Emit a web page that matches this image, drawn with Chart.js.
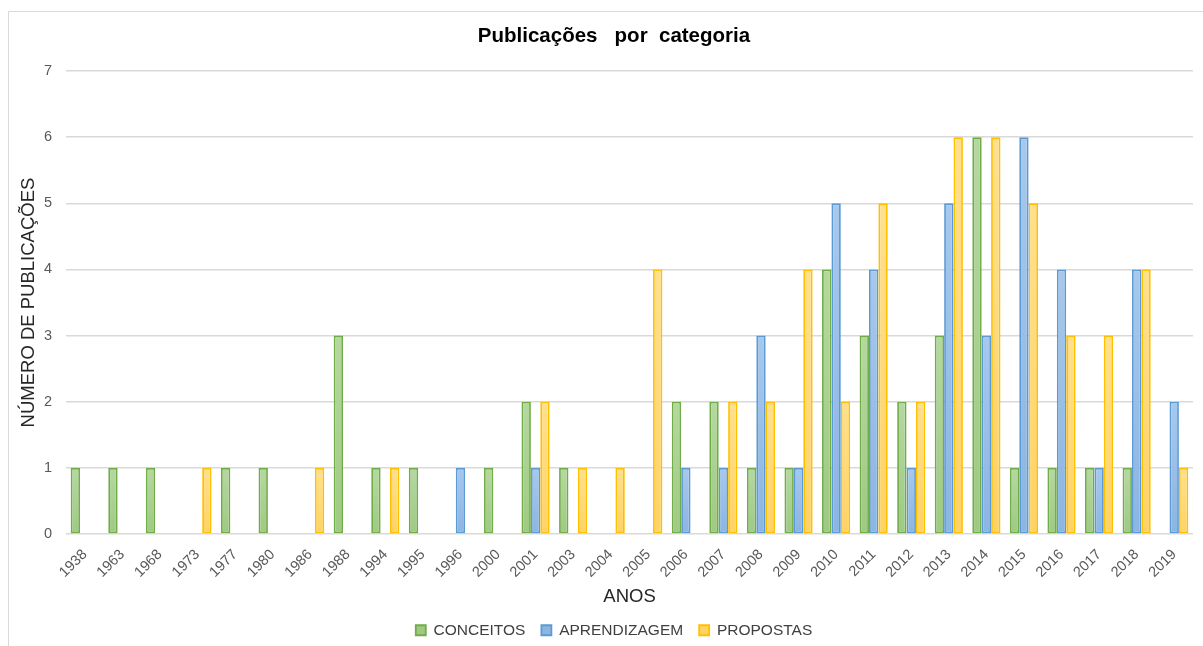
<!DOCTYPE html>
<html>
<head>
<meta charset="utf-8">
<script src="https://cdn.jsdelivr.net/npm/chart.js@4/dist/chart.umd.min.js"></script>
<style>
  html, body { margin: 0; padding: 0; background: #fff; overflow: hidden; }
  canvas { display: block; }
</style>
</head>
<body>
<canvas id="grafico" width="1203" height="646"></canvas>
<script>
// Anos com publicações
const anos = ['1938','1963','1968','1973','1977','1980','1986','1988','1994','1995',
              '1996','2000','2001','2003','2004','2005','2006','2007','2008','2009',
              '2010','2011','2012','2013','2014','2015','2016','2017','2018','2019'];

// Número de publicações por categoria
const conceitos    = [1,1,1,0,1,1,0,3,1,1, 0,1,2,1,0,0,2,2,1,1, 4,3,2,3,6,1,1,1,1,0];
const aprendizagem = [0,0,0,0,0,0,0,0,0,0, 1,0,1,0,0,0,1,1,3,1, 5,4,1,5,3,6,4,1,4,2];
const propostas    = [0,0,0,1,0,0,1,0,1,0, 0,0,2,1,1,4,0,2,2,4, 2,5,2,6,6,5,3,3,4,1];

// Marcas do eixo vertical
const marcasY = [0,1,2,3,4,5,6,7];

Chart.defaults.font.family = "'Liberation Sans', Arial, sans-serif";

// Preenchimento em degradê vertical para cada barra
function degrade(cimo, base) {
  return (ctx) => {
    const chart = ctx.chart;
    if (ctx.type !== 'data' || !chart.chartArea || !ctx.parsed) return base;
    const y = chart.scales.y;
    const y0 = y.getPixelForValue(0);
    const y1 = y.getPixelForValue(ctx.parsed.y);
    if (!isFinite(y0) || !isFinite(y1) || Math.abs(y0 - y1) < 1) return base;
    const g = chart.ctx.createLinearGradient(0, y1, 0, y0);
    g.addColorStop(0, cimo);
    g.addColorStop(1, base);
    return g;
  };
}

// Moldura cinza em volta do gráfico
const moldura = {
  id: 'moldura',
  beforeDraw(chart) {
    const c = chart.ctx;
    c.save();
    c.strokeStyle = '#d9d9d9';
    c.lineWidth = 1;
    c.beginPath();
    c.moveTo(8.5, chart.height);
    c.lineTo(8.5, 11.5);
    c.lineTo(chart.width, 11.5);
    c.stroke();
    c.restore();
  }
};

// Centraliza título e legenda na moldura inteira (que passa da borda direita)
const centralizar = {
  id: 'centralizar',
  afterLayout(chart) {
    const d = 10.5;
    [chart.titleBlock, chart.legend].forEach(b => {
      if (b) { b.left += d; b.right += d; }
    });
  }
};

new Chart(document.getElementById('grafico'), {
  type: 'bar',
  data: {
    labels: anos,
    datasets: [
      { label: 'CONCEITOS', data: conceitos,
        backgroundColor: degrade('#b5d8a1', '#9fc983'), borderColor: '#70ad47' },
      { label: 'APRENDIZAGEM', data: aprendizagem,
        backgroundColor: degrade('#a8c8ec', '#8cb5e1'), borderColor: '#5b9bd5' },
      { label: 'PROPOSTAS', data: propostas,
        backgroundColor: degrade('#ffe08f', '#ffd265'), borderColor: '#ffc000' }
    ]
  },
  options: {
    responsive: false,
    animation: false,
    layout: { padding: { top: 12, left: 14, right: 10, bottom: 0 } },
    datasets: {
      bar: {
        categoryPercentage: 0.75,
        barPercentage: 1.0,
        borderWidth: 1.8,
        borderSkipped: false
      }
    },
    plugins: {
      title: {
        display: true,
        text: 'Publicações   por  categoria',
        color: '#000',
        font: { size: 20.5, weight: 'bold' },
        padding: { top: 12.5, bottom: 22 }
      },
      legend: {
        position: 'bottom',
        maxHeight: 39.5,
        labels: {
          color: '#404040',
          font: { size: 15.5 },
          boxWidth: 10,
          boxHeight: 10,
          padding: 16
        }
      },
      tooltip: { enabled: false }
    },
    scales: {
      x: {
        grid: { display: false },
        border: { display: false },
        ticks: {
          color: '#595959',
          font: { size: 14.5 },
          minRotation: 45,
          maxRotation: 45,
          padding: 4,
          autoSkip: false
        },
        title: {
          display: true,
          text: 'ANOS',
          color: '#262626',
          font: { size: 18.5 },
          padding: { top: 0, bottom: -1.6 }
        },
        afterFit(s) { s.height = 72.5; }
      },
      y: {
        min: 0,
        max: 7,
        afterBuildTicks(s) { s.ticks = marcasY.map(v => ({ value: v })); },
        grid: { color: '#d9d9d9', lineWidth: 1.5, drawTicks: false },
        border: { display: false },
        ticks: { color: '#595959', font: { size: 14.5 }, padding: 14 },
        title: {
          display: true,
          text: 'NÚMERO DE PUBLICAÇÕES',
          color: '#262626',
          font: { size: 18.5 },
          padding: { top: 3.9, bottom: 0 }
        },
        afterFit(s) { s.width = 52; }
      }
    }
  },
  plugins: [moldura, centralizar]
});
</script>
</body>
</html>
